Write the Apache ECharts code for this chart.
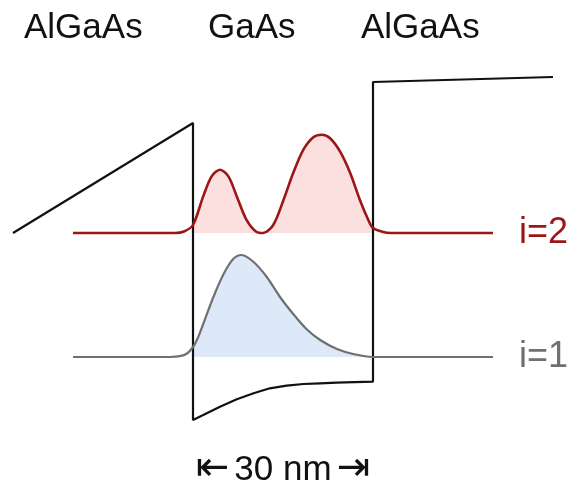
<!DOCTYPE html>
<html>
<head>
<meta charset="utf-8">
<script src="https://cdn.jsdelivr.net/npm/echarts@6/dist/echarts.min.js"></script>
<style>
  html, body { margin: 0; padding: 0; background: #fff; }
  #chart { width: 575px; height: 489px; }
</style>
</head>
<body>
<div id="chart"></div>
<script>
  // position in nm (well spans 0..30), energy in meV above well bottom
  const bandX = [-30, 0, 0, 1.7, 4.5, 7.3, 10.1, 12.8, 15.6, 18.4, 21.2, 23.9, 30, 30, 60];
  const bandE = [187, 297, 0, 5, 13.3, 20.7, 26.7, 31.7, 34.3, 36, 36.7, 37.3, 38.3, 338, 343];

  // subband levels
  const level2 = 187;
  const level1 = 63;

  // |psi|^2 (arbitrary units) drawn on top of each level
  const psi2X = [-20, -3, -1.5, 0, 1.7, 3.1, 4.5, 5.9, 7.3, 8.9, 10.6, 11.7, 13.4, 15.1, 16.7, 18.4, 20.1, 21.5, 22.8, 24.5, 26.2, 27.8, 29.2, 30, 31.7, 33, 50];
  const psi2A = [0, 0, 1.5, 8, 36.6, 56.6, 63.3, 56.6, 36.6, 13.3, 1, 0, 8.3, 33.3, 60, 83.3, 96, 98.3, 95, 81.6, 60, 33.3, 13.3, 5, 1, 0, 0];

  const psi1X = [-20, -3.8, -2.2, -1, 0, 0.8, 1.7, 3.4, 5.1, 6.7, 8.1, 10.1, 12.3, 14.5, 16.7, 18.9, 21.2, 24, 26.7, 30, 50];
  const psi1A = [0, 0, 0.8, 3.5, 10, 19, 33, 60, 83, 98, 102, 95, 80, 60, 43, 28, 17, 8, 3, 0, 0];

  const regionLabels = ["AlGaAs", "GaAs", "AlGaAs"];
  const widthLabel = "30 nm";

  const font = "'Liberation Sans', Arial, sans-serif";

  function pairs(xs, ys, base) {
    return xs.map(function (x, i) { return [x, base + ys[i]]; });
  }
  function inWell(pts) {
    return pts.filter(function (p) { return p[0] >= 0 && p[0] <= 30; });
  }

  const psi2 = pairs(psi2X, psi2A, level2);
  const psi1 = pairs(psi1X, psi1A, level1);

  const chart = echarts.init(document.getElementById("chart"));

  chart.setOption({
    animation: false,
    grid: { left: 0, right: 0, top: 0, bottom: 0 },
    xAxis: { type: "value", min: -32.1667, max: 63.6667, show: false },
    yAxis: { type: "value", min: -69, max: 420, show: false },
    graphic: [
      { type: "text", left: 24, top: 11, style: { text: regionLabels[0], font: "35px " + font, fill: "#111" } },
      { type: "text", left: 208, top: 11, style: { text: regionLabels[1], font: "35px " + font, fill: "#111" } },
      { type: "text", left: 361, top: 11, style: { text: regionLabels[2], font: "35px " + font, fill: "#111" } },
      {
        type: "text", x: 283, y: 470,
        style: {
          text: "{a|⇤}{t|" + widthLabel + "}{a|⇥}",
          align: "center", verticalAlign: "middle", fill: "#111",
          rich: {
            a: { fontFamily: "'DejaVu Sans'", fontSize: 40, color: "#111" },
            t: { fontFamily: font, fontSize: 35, color: "#111", padding: [0, 5] }
          }
        }
      }
    ],
    series: [
      {
        type: "line",
        data: inWell(psi2),
        smooth: 0.3,
        showSymbol: false,
        lineStyle: { width: 0 },
        areaStyle: { color: "#fce0e0", opacity: 1, origin: level2 },
        z: 1
      },
      {
        type: "line",
        data: inWell(psi1),
        smooth: 0.3,
        showSymbol: false,
        lineStyle: { width: 0 },
        areaStyle: { color: "#dde8f9", opacity: 1, origin: level1 },
        z: 1
      },
      {
        type: "line",
        data: bandX.map(function (x, i) { return [x, bandE[i]]; }),
        showSymbol: false,
        lineStyle: { color: "#111", width: 2.2 },
        z: 3
      },
      {
        type: "line",
        data: psi2,
        smooth: 0.3,
        showSymbol: false,
        lineStyle: { color: "#9b1616", width: 2.6 },
        endLabel: { show: true, formatter: "i=2", color: "#9b1616", fontSize: 36, fontFamily: font, distance: 26 },
        z: 4
      },
      {
        type: "line",
        data: psi1,
        smooth: 0.3,
        showSymbol: false,
        lineStyle: { color: "#707070", width: 2.2 },
        endLabel: { show: true, formatter: "i=1", color: "#707070", fontSize: 36, fontFamily: font, distance: 26 },
        z: 4
      }
    ]
  });
</script>
</body>
</html>
